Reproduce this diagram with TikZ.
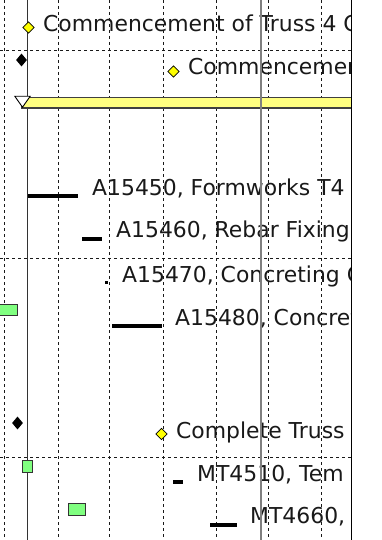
\documentclass[tikz,border=0pt]{standalone}
\usepackage{fontspec}
\setmainfont{DejaVu Sans}
\usetikzlibrary{shapes.geometric}
\definecolor{gfill}{HTML}{80FF80}
\definecolor{barfill}{HTML}{FFFF80}
\definecolor{dfill}{HTML}{FFFF00}
\begin{document}
\begin{tikzpicture}[x=1pt,y=-1pt,
  gridline/.style={draw=black!90, line width=0.7pt, dash pattern=on 3pt off 3pt},
  ydia/.style={diamond, draw=black, fill=dfill, line width=0.8pt, minimum width=11.5pt, minimum height=11.5pt, inner sep=0pt},
  bdia/.style={diamond, fill=black, minimum width=11pt, minimum height=13pt, inner sep=0pt},
  lbl/.style={anchor=base west, inner sep=0pt, font=\fontsize{21.9}{24}\selectfont, text=black!90},
  taskbar/.style={fill=black},
  gbox/.style={draw=black!80, fill=gfill, line width=0.8pt}
]
\useasboundingbox (0,0) rectangle (382,540);
\fill[white] (0,0) rectangle (382,540);
\begin{scope}
\clip (0,0) rectangle (351,540);
% grid
\foreach \gx in {4,58,109,163,216,268,321}
  \draw[gridline] (\gx,0) -- (\gx,540);
\foreach \gy in {50.5,258,457}
  \draw[gridline] (0,\gy) -- (351,\gy);
% time line
\draw[black!80, line width=0.9pt] (27.5,0) -- (27.5,540);
% summary bar
\draw[draw=black!75, fill=barfill, line width=1.2pt] (22,97.5) rectangle (360,108);
\node[isosceles triangle, shape border rotate=-90, isosceles triangle apex angle=70, draw=black, fill=white, line width=0.9pt, inner sep=0pt, minimum height=11pt, minimum width=12pt, anchor=apex] (tri) at (22.5,108) {};
% markers
\node[ydia] (m1) at (28.5,27.5) {};
\node[bdia] (m2) at (21.5,60) {};
\node[ydia] (m3) at (173.5,71.5) {};
\node[bdia] (m4) at (17.5,423) {};
\node[ydia] (m5) at (161.5,434) {};
% task bars
\fill[taskbar] (28,194) rectangle (78,198);
\fill[taskbar] (82,237) rectangle (101.5,241);
\fill[taskbar] (104.5,280.5) rectangle (107.5,283.5);
\fill[taskbar] (112,324) rectangle (162,328);
\fill[taskbar] (173,480) rectangle (183,484);
\fill[taskbar] (210,522.5) rectangle (237,526.5);
% green boxes
\draw[gbox] (-5,304) rectangle (17,315.5);
\draw[gbox] (22,460) rectangle (32,472);
\draw[gbox] (68,503.5) rectangle (85.5,515);
% labels
\node[lbl] (t1) at (43,32) {Commencement of Truss 4 C};
\node[lbl] (t2) at (188,75) {Commencement};
\node[lbl] (t3) at (92,195) {A15450, Formworks T4};
\node[lbl] (t4) at (116,237) {A15460, Rebar Fixing};
\node[lbl] (t5) at (122,282) {A15470, Concreting C};
\node[lbl] (t6) at (175,325) {A15480, Concrete};
\node[lbl] (t7) at (176,438) {Complete Truss};
\node[lbl] (t8) at (197,481) {MT4510, Tem};
\node[lbl] (t9) at (250,523) {MT4660, T};
% status line
\draw[black!50, line width=1.6pt] (261,0) -- (261,540);
\end{scope}
\draw[black, line width=1.2pt] (351.5,0) -- (351.5,540);
\end{tikzpicture}
\end{document}
